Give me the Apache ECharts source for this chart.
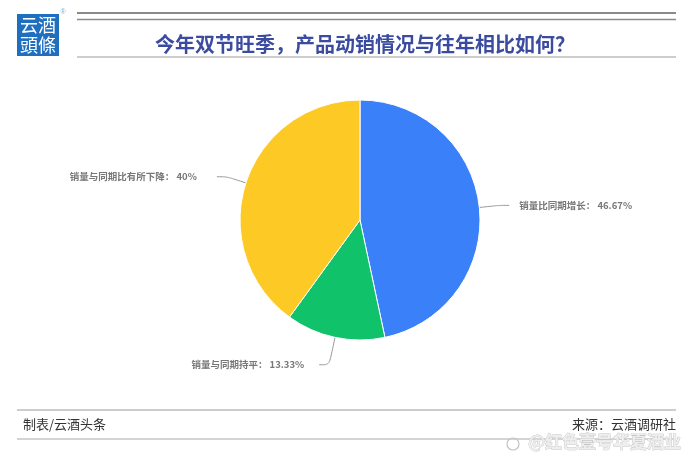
<!DOCTYPE html>
<html>
<head>
<meta charset="utf-8">
<script src="https://cdn.jsdelivr.net/npm/echarts@6/dist/echarts.min.js"></script>
<style>
html,body{margin:0;padding:0;background:#fff;}
#main{width:690px;height:461px;}
</style>
</head>
<body>
<div id="main"></div>
<script>
var categories = ['销量比同期增长', '销量与同期持平', '销量与同期比有所下降'];
var values = [46.67, 13.33, 40];
var colors = ['#3a80f8', '#10c36a', '#fdca25'];
var titleText = '今年双节旺季，产品动销情况与往年相比如何？';
var footerLeft = '制表/云酒头条';
var footerRight = '来源：云酒调研社';
var watermark = '@红色壹号华夏酒业';

var chart = echarts.init(document.getElementById('main'));
var CJK = '"Noto Sans CJK SC", "Noto Sans", sans-serif';
var labelGaps = [10, 15, 20];
var lineLengths = [20, 28, 20];

var option = {
  backgroundColor: '#ffffff',
  animation: false,
  color: colors,
  title: {
    text: titleText,
    left: 360,
    top: 29,
    textAlign: 'center',
    textStyle: { color: '#3b4ba0', fontSize: 20, fontWeight: 'bold', fontFamily: CJK }
  },
  graphic: [
    { type: 'rect', shape: { x: 17, y: 14, width: 42, height: 42 }, style: { fill: '#1f6fc0' } },
    { type: 'text', style: { x: 38, y: 25, text: '云酒', fill: '#fff', font: '18px "Noto Sans CJK TC"', textAlign: 'center', textVerticalAlign: 'middle' } },
    { type: 'text', style: { x: 38, y: 45, text: '頭條', fill: '#fff', font: '18px "Noto Sans CJK TC"', textAlign: 'center', textVerticalAlign: 'middle' } },
    { type: 'text', style: { x: 63, y: 12, text: '®', fill: '#7ab0e0', font: '7px sans-serif', textAlign: 'center', textVerticalAlign: 'middle' } },
    { type: 'line', shape: { x1: 77, y1: 13, x2: 676, y2: 13 }, style: { stroke: '#8a8a8a', lineWidth: 2 } },
    { type: 'line', shape: { x1: 77, y1: 19.5, x2: 676, y2: 19.5 }, style: { stroke: '#8a8a8a', lineWidth: 1.5 } },
    { type: 'line', shape: { x1: 77, y1: 57, x2: 676, y2: 57 }, style: { stroke: '#bdbdbd', lineWidth: 1.5 } },
    { type: 'line', shape: { x1: 17, y1: 410, x2: 676, y2: 410 }, style: { stroke: '#bdbdbd', lineWidth: 1.5 } },
    { type: 'line', shape: { x1: 17, y1: 439, x2: 676, y2: 439 }, style: { stroke: '#aaaaaa', lineWidth: 1 } },
    { type: 'text', style: { x: 23, y: 424, text: footerLeft, fill: '#333', font: '13px ' + CJK, textVerticalAlign: 'middle' } },
    { type: 'text', style: { x: 676, y: 424, text: footerRight, fill: '#333', font: '13px ' + CJK, textAlign: 'right', textVerticalAlign: 'middle' } },
    { type: 'text', style: { x: 681, y: 442, text: watermark, fill: '#eeeeee', stroke: '#c4c4c4', lineWidth: 0.8, font: 'bold 17px ' + CJK, textAlign: 'right', textVerticalAlign: 'middle' } },
    { type: 'circle', shape: { cx: 513, cy: 444, r: 6 }, style: { fill: 'none', stroke: '#c4c4c4', lineWidth: 1.2 } }
  ],
  series: [{
    type: 'pie',
    center: [360, 220],
    radius: 120,
    startAngle: 90,
    clockwise: true,
    avoidLabelOverlap: false,
    data: categories.map(function (c, i) {
      return {
        name: c, value: values[i],
        label: { distanceToLabelLine: labelGaps[i] },
        labelLine: { length: lineLengths[i] }
      };
    }),
    itemStyle: { borderColor: '#fff', borderWidth: 1 },
    label: {
      formatter: '{b}： {c}%',
      color: '#777777',
      fontSize: 9.5,
      fontWeight: 'bold',
      fontFamily: CJK
    },
    labelLine: {
      length: 20,
      length2: 10,
      smooth: 0.3,
      lineStyle: { color: '#999', width: 1 }
    }
  }]
};
chart.setOption(option);
</script>
</body>
</html>
